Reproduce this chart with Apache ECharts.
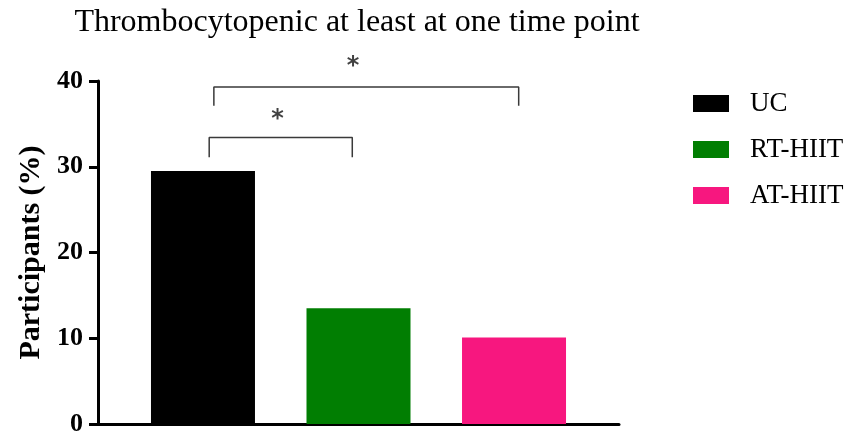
<!DOCTYPE html>
<html>
<head>
<meta charset="utf-8">
<script src="https://cdn.jsdelivr.net/npm/echarts@6/dist/echarts.min.js"></script>
<style>html,body{margin:0;padding:0;background:#fff}#c{width:853px;height:438px}</style>
</head>
<body>
<div id="c"></div>
<script>
const titleText = 'Thrombocytopenic at least at one time point';
const groups = ['UC', 'RT-HIIT', 'AT-HIIT'];
const values = [29.5, 13.5, 10.1];
const groupColors = ['#000000', '#017E02', '#F7177F'];
const yTicks = [0, 10, 20, 30, 40];
const yLabel = 'Participants (%)';
// significance brackets: from group index, to group index, bracket top (%), leg bottom (%), star position
const bracketFrom = [0.04, 0.07];
const bracketTo = [0.96, 2.03];
const bracketTop = [33.4, 39.3];
const bracketLeg = [31.1, 37.1];
const starX = [0.48, 0.965];
const starY = [35.5, 41.65];
const starText = ['*', '*'];

const serif = '"Liberation Serif", "Times New Roman", serif';
const chart = echarts.init(document.getElementById('c'), null, {renderer: 'canvas'});

const series = [];
groups.forEach((g, i) => {
  series.push({
    name: g, type: 'bar', barWidth: 104, barGap: '-100%',
    itemStyle: {color: groupColors[i]},
    data: [[i, values[i]]], silent: true
  });
});
bracketFrom.forEach((f, k) => {
  series.push({
    type: 'line', symbol: 'none', silent: true, clip: false,
    lineStyle: {color: '#3a3a3a', width: 1.5},
    data: [[f, bracketLeg[k]], [f, bracketTop[k]], [bracketTo[k], bracketTop[k]], [bracketTo[k], bracketLeg[k]]]
  });
});
series.push({
  type: 'scatter', symbolSize: 1, silent: true, clip: false,
  itemStyle: {color: 'rgba(0,0,0,0)'},
  label: {show: true, position: 'inside', formatter: p => starText[p.dataIndex],
    fontFamily: '"DejaVu Sans", Arial, sans-serif', fontWeight: 'bold', fontSize: 24, color: '#111'},
  data: starX.map((x, k) => [x, starY[k]])
});

chart.setOption({
  animation: false,
  backgroundColor: '#fff',
  title: {
    text: titleText, left: 352, top: 2, textAlign: 'center',
    textStyle: {fontFamily: serif, fontSize: 32, fontWeight: 'normal', color: '#000'}
  },
  legend: {
    data: groups, orient: 'vertical', left: 693, top: 90, padding: 0,
    itemWidth: 36, itemHeight: 17, itemGap: 19, icon: 'rect',
    textStyle: {fontFamily: serif, fontSize: 27, color: '#000', lineHeight: 26, padding: [0, 0, 0, 16]}
  },
  grid: {left: 98, right: 234, top: 81, bottom: 14, containLabel: false},
  xAxis: {
    type: 'value', min: -0.675, max: 2.675,
    axisLine: {show: true, onZero: false, lineStyle: {color: '#000', width: 3}},
    axisTick: {show: false}, axisLabel: {show: false}, splitLine: {show: false}
  },
  yAxis: {
    type: 'value', min: yTicks[0], max: yTicks[yTicks.length - 1], interval: 10,
    name: yLabel, nameLocation: 'middle', nameGap: 45,
    nameTextStyle: {fontFamily: serif, fontSize: 30, fontWeight: 'bold', color: '#000'},
    axisLine: {show: true, onZero: false, lineStyle: {color: '#000', width: 3}},
    axisTick: {show: true, length: 9, lineStyle: {color: '#000', width: 3}},
    axisLabel: {fontFamily: serif, fontSize: 26, fontWeight: 'bold', color: '#000', margin: 15},
    splitLine: {show: false}
  },
  series: series
});
</script>
</body>
</html>
